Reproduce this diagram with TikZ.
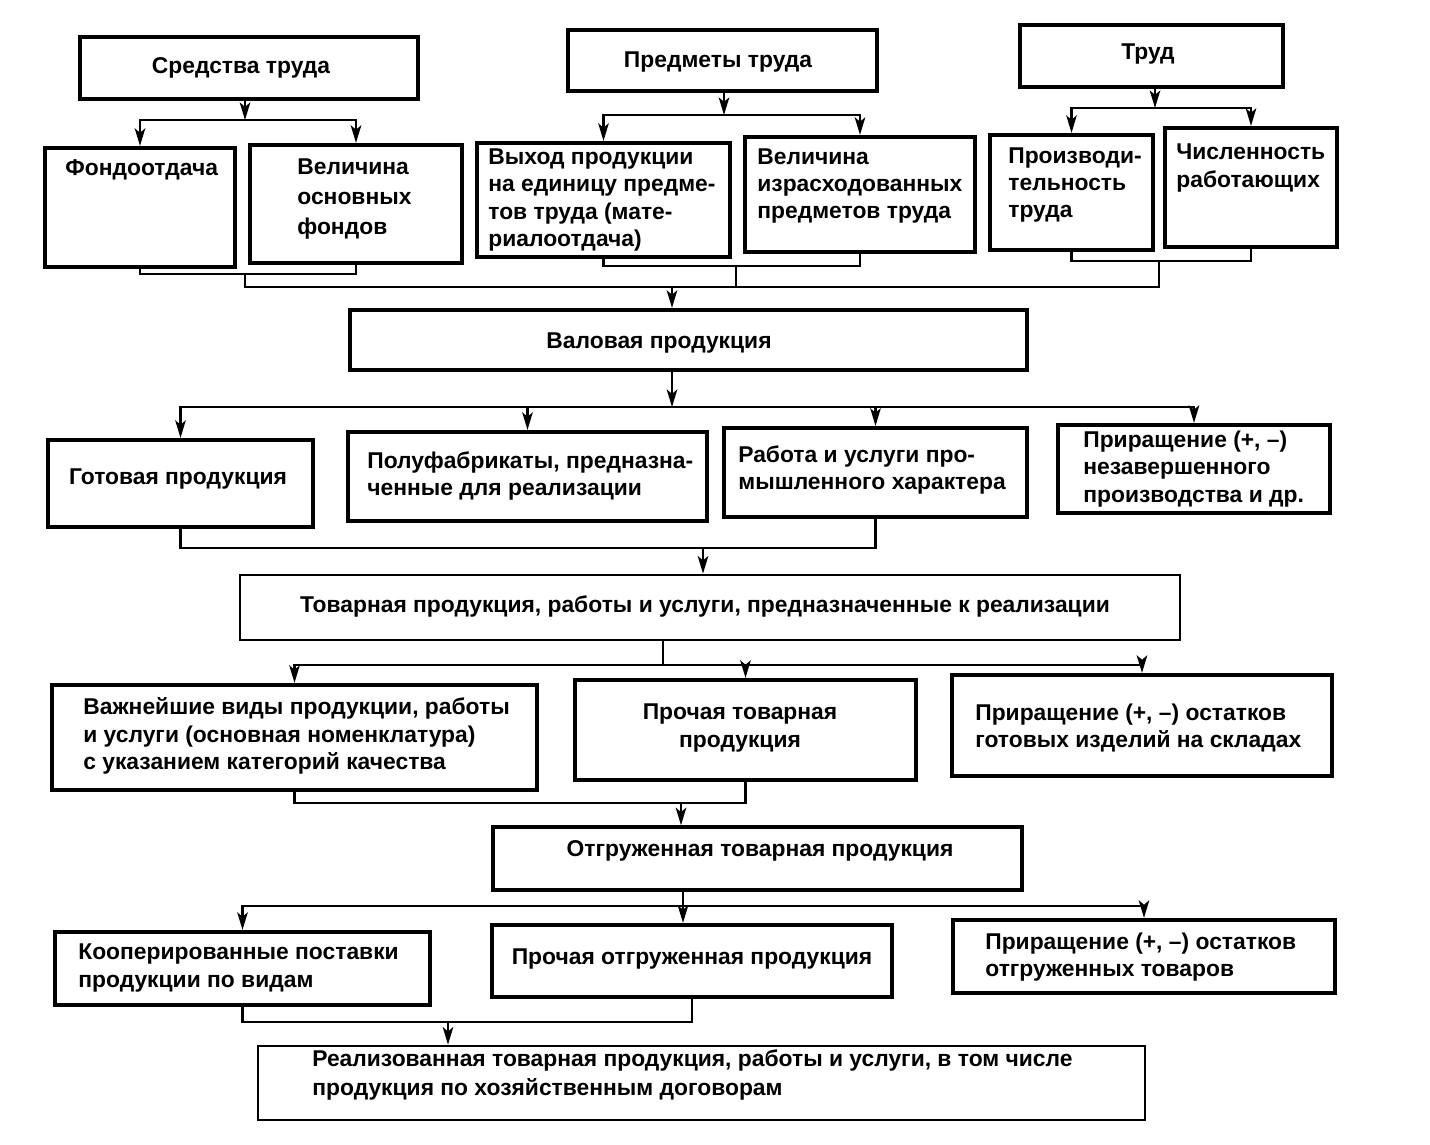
\documentclass[tikz,border=0pt]{standalone}
\usepackage{fontspec}
\setmainfont{Liberation Sans}
\usetikzlibrary{arrows.meta,fit}
\tikzset{
  box/.style={draw, line width=2.4pt, inner sep=0pt},
  thinbox/.style={draw, line width=1.6pt, inner sep=0pt},
  txt/.style={inner sep=0pt, font=\bfseries\fontsize{13}{15.6}\selectfont, align=left},
  ctxt/.style={inner sep=0pt, font=\bfseries\fontsize{13}{15.6}\selectfont, align=center},
  ln/.style={line width=1.2pt},
  arr/.style={line width=1.2pt, -{Stealth[length=10pt,width=6pt,inset=2.5pt]}},
}
\begin{document}
\begin{tikzpicture}[x=0.02cm,y=-0.02cm]
\useasboundingbox (0,0) rectangle (1430,1144);
% ---- row 1
\node[box, fit={(80,37) (418,99)}] (st) {};
\node[ctxt] (st-t) at (241,68) {Средства труда};
\node[box, fit={(568,30) (877,91)}] (pr) {};
\node[ctxt] (pr-t) at (718,62) {Предметы труда};
\node[box, fit={(1020,25) (1283,87)}] (tr) {};
\node[ctxt] (tr-t) at (1148,54) {Труд};
% ---- row 2
\node[box, fit={(45,148) (235,267)}] (fo) {};
\node[txt, anchor=west] (fo-t) at (65,170) {Фондоотдача};
\node[box, fit={(250,145) (462,263)}] (vo) {};
\node[txt, anchor=west, font=\bfseries\fontsize{13}{17}\selectfont] (vo-t) at (297,199) {Величина\\основных\\фондов};
\node[box, fit={(477,143) (730,257)}] (vy) {};
\node[txt, anchor=west] (vy-t) at (488,200) {Выход продукции\\на единицу предме-\\тов труда (мате-\\риалоотдача)};
\node[box, fit={(745,137) (975,252)}] (vi) {};
\node[txt, anchor=west] (vi-t) at (757,186) {Величина\\израсходованных\\предметов труда};
\node[box, fit={(990,135) (1153,250)}] (pt2) {};
\node[txt, anchor=west] (pt2-t) at (1008,185) {Производи-\\тельность\\труда};
\node[box, fit={(1165,128) (1337,247)}] (ch) {};
\node[txt, anchor=west] (ch-t) at (1176,168) {Численность\\работающих};
% ---- valovaya
\node[box, fit={(350,310) (1027,370)}] (val) {};
\node[ctxt] (val-t) at (659,343) {Валовая продукция};
% ---- row 3
\node[box, fit={(48,440) (313,527)}] (gp) {};
\node[ctxt] (gp-t) at (178,479) {Готовая продукция};
\node[box, fit={(348,432) (707,521)}] (pf) {};
\node[txt, anchor=west] (pf-t) at (367,476) {Полуфабрикаты, предназна-\\ченные для реализации};
\node[box, fit={(724,428) (1027,517)}] (ru) {};
\node[txt, anchor=west] (ru-t) at (738,470) {Работа и услуги про-\\мышленного характера};
\node[box, fit={(1058,425) (1330,513)}] (pn) {};
\node[txt, anchor=west] (pn-t) at (1083,469) {Приращение (+, –)\\незавершенного\\производства и др.};
% ---- tovarnaya
\node[thinbox, fit={(240,575) (1180,640)}] (tp) {};
\node[ctxt] (tp-t) at (705,606) {Товарная продукция, работы и услуги, предназначенные к реализации};
% ---- row 4
\node[box, fit={(52,685) (537,790)}] (vv) {};
\node[txt, anchor=west] (vv-t) at (83,736) {Важнейшие виды продукции, работы\\и услуги (основная номенклатура)\\с указанием категорий качества};
\node[box, fit={(575,680) (916,780)}] (ptv) {};
\node[ctxt] (ptv-t) at (740,728) {Прочая товарная\\продукция};
\node[box, fit={(952,675) (1332,776)}] (pg) {};
\node[txt, anchor=west] (pg-t) at (975,728) {Приращение (+, –) остатков\\готовых изделий на складах};
% ---- otgruzhennaya
\node[box, line width=2pt, fit={(493,827) (1022,890)}] (og) {};
\node[ctxt] (og-t) at (760,851) {Отгруженная товарная продукция};
% ---- row 5
\node[box, fit={(55,932) (430,1005)}] (kp) {};
\node[txt, anchor=west] (kp-t) at (78,968) {Кооперированные поставки\\продукции по видам};
\node[box, fit={(492,925) (892,997)}] (po) {};
\node[ctxt] (po-t) at (692,959) {Прочая отгруженная продукция};
\node[box, fit={(953,920) (1335,993)}] (pot) {};
\node[txt, anchor=west] (pot-t) at (985,957) {Приращение (+, –) остатков\\отгруженных товаров};
% ---- realizovannaya
\node[thinbox, fit={(258,1046) (1145,1120)}] (rz) {};
\node[txt, anchor=west, font=\bfseries\fontsize{13}{17}\selectfont] (rz-t) at (312,1075) {Реализованная товарная продукция, работы и услуги, в том числе\\продукция по хозяйственным договорам};

% ---- connectors row1 -> row2
\coordinate (h1) at (245,120);
\draw[arr] (st.south -| h1) -- (h1);
\draw[arr] (h1) -| (fo.north);
\draw[arr] (h1) -| (vo.north);
\coordinate (h2) at (724,115);
\draw[arr] (pr.south -| h2) -- (h2);
\draw[arr] (h2) -| (vy.north);
\draw[arr] (h2) -| (vi.north);
\coordinate (h3) at (1155,108);
\draw[arr] (tr.south -| h3) -- (h3);
\draw[arr] (h3) -| (pt2.north);
\draw[arr] (h3) -| (ch.north);
% ---- row2 -> valovaya
\coordinate (b1) at (245,274);
\coordinate (b2) at (736,266);
\coordinate (b3) at (1159,261);
\coordinate (hub1) at (672,287);
\draw[ln] (fo.south) |- (b1) -| (vo.south);
\draw[ln] (vy.south) |- (b2) -| (vi.south);
\draw[ln] (pt2.south) |- (b3) -| (ch.south);
\draw[ln] (b1) |- (hub1);
\draw[ln] (b3) |- (hub1);
\draw[ln] (b2) -- (b2 |- hub1);
\draw[arr] (hub1) -- (hub1 |- val.north);
% ---- valovaya -> row3
\coordinate (hub2) at (672,407);
\draw[arr] (val.south -| hub2) -- (hub2);
\draw[arr] (hub2) -| (gp.north);
\draw[arr] (hub2) -| (pf.north);
\draw[arr] (hub2) -| (ru.north);
\draw[arr] (hub2) -| (pn.north);
% ---- row3 -> tovarnaya
\coordinate (hub3) at (703,548);
\draw[ln] (gp.south) |- (hub3) -| (ru.south);
\draw[arr] (hub3) -- (hub3 |- tp.north);
% ---- tovarnaya -> row4
\coordinate (hub4) at (663,665);
\draw[ln] (tp.south -| hub4) -- (hub4);
\draw[arr] (hub4) -| (vv.north);
\draw[arr] (hub4) -| (ptv.north);
\draw[arr] (hub4) -| (pg.north);
% ---- row4 -> otgruzhennaya
\coordinate (hub5) at (681,803);
\draw[ln] (vv.south) |- (hub5) -| (ptv.south);
\draw[arr] (hub5) -- (hub5 |- og.north);
% ---- otgruzhennaya -> row5
\coordinate (hub6) at (683,906);
\draw[ln] (og.south -| hub6) -- (hub6);
\draw[arr] (hub6) -| (kp.north);
\draw[arr] (hub6) -- (hub6 |- po.north);
\draw[arr] (hub6) -| (pot.north);
% ---- row5 -> realizovannaya
\coordinate (hub7) at (448,1022);
\draw[ln] (kp.south) |- (hub7) -| (po.south);
\draw[arr] (hub7) -- (hub7 |- rz.north);
\end{tikzpicture}
\end{document}
